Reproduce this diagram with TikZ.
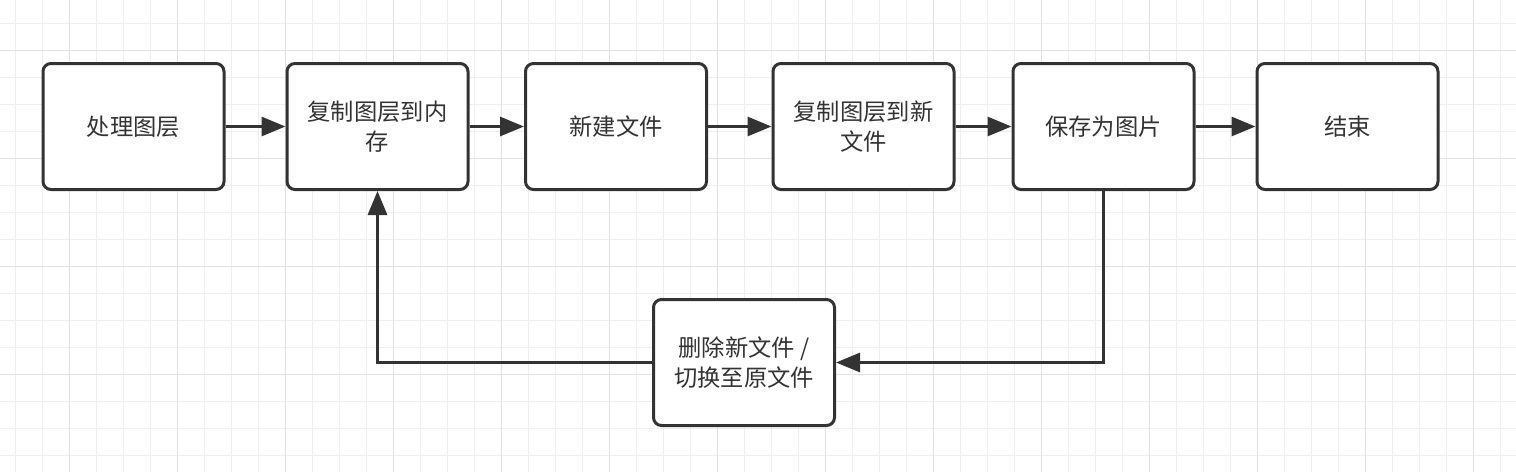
\documentclass[tikz,border=0pt]{standalone}
\usepackage{fontspec}
\setmainfont{Noto Sans CJK SC}
\usetikzlibrary{arrows.meta}
\definecolor{ink}{HTML}{333333}
\definecolor{gridminor}{HTML}{EEEEEE}
\definecolor{gridmajor}{HTML}{E2E2E2}
\tikzset{
  stepbox/.style={draw=ink, line width=3pt, rounded corners=8pt, fill=white,
    minimum width=181pt, minimum height=126pt, inner sep=0pt,
    font=\fontsize{23.3}{30}\selectfont, text=ink, align=center},
  flow/.style={draw=ink, line width=3pt, -{Triangle[length=24pt,width=19pt]}},
}
\begin{document}
\begin{tikzpicture}[x=1pt,y=-1pt]
\useasboundingbox (0,0) rectangle (1516,472);
\fill[white] (0,0) rectangle (1516,472);
% grid
\foreach \i in {0,...,55} {
  \pgfmathsetmacro{\gx}{15+27*\i}
  \draw[gridminor, line width=1pt] (\gx,0) -- (\gx,472);
}
\foreach \j in {0,...,17} {
  \pgfmathsetmacro{\gy}{23.5+27*\j}
  \draw[gridminor, line width=1pt] (0,\gy) -- (1516,\gy);
}
\foreach \i in {0,...,13} {
  \pgfmathsetmacro{\gx}{69+108*\i}
  \draw[gridmajor, line width=1pt] (\gx,0) -- (\gx,472);
}
\foreach \j in {0,...,4} {
  \pgfmathsetmacro{\gy}{50.5+108*\j}
  \draw[gridmajor, line width=1pt] (0,\gy) -- (1516,\gy);
}
% boxes
\node[stepbox] (a) at (133.5,126.5) {处理图层};
\node[stepbox] (b) at (377.5,126.5) {复制图层到内\\存};
\node[stepbox] (c) at (616,126.5) {新建文件};
\node[stepbox] (d) at (863.5,126.5) {复制图层到新\\文件};
\node[stepbox] (e) at (1103.5,126.5) {保存为图片};
\node[stepbox] (f) at (1347.5,126.5) {结束};
\node[stepbox] (g) at (744,362.5) {删除新文件 /\\切换至原文件};
% arrows
\draw[flow] (a) -- (b);
\draw[flow] (b) -- (c);
\draw[flow] (c) -- (d);
\draw[flow] (d) -- (e);
\draw[flow] (e) -- (f);
\draw[flow] (e.south) |- (g.east);
\draw[flow] (g.west) -| (b.south);
\end{tikzpicture}
\end{document}
